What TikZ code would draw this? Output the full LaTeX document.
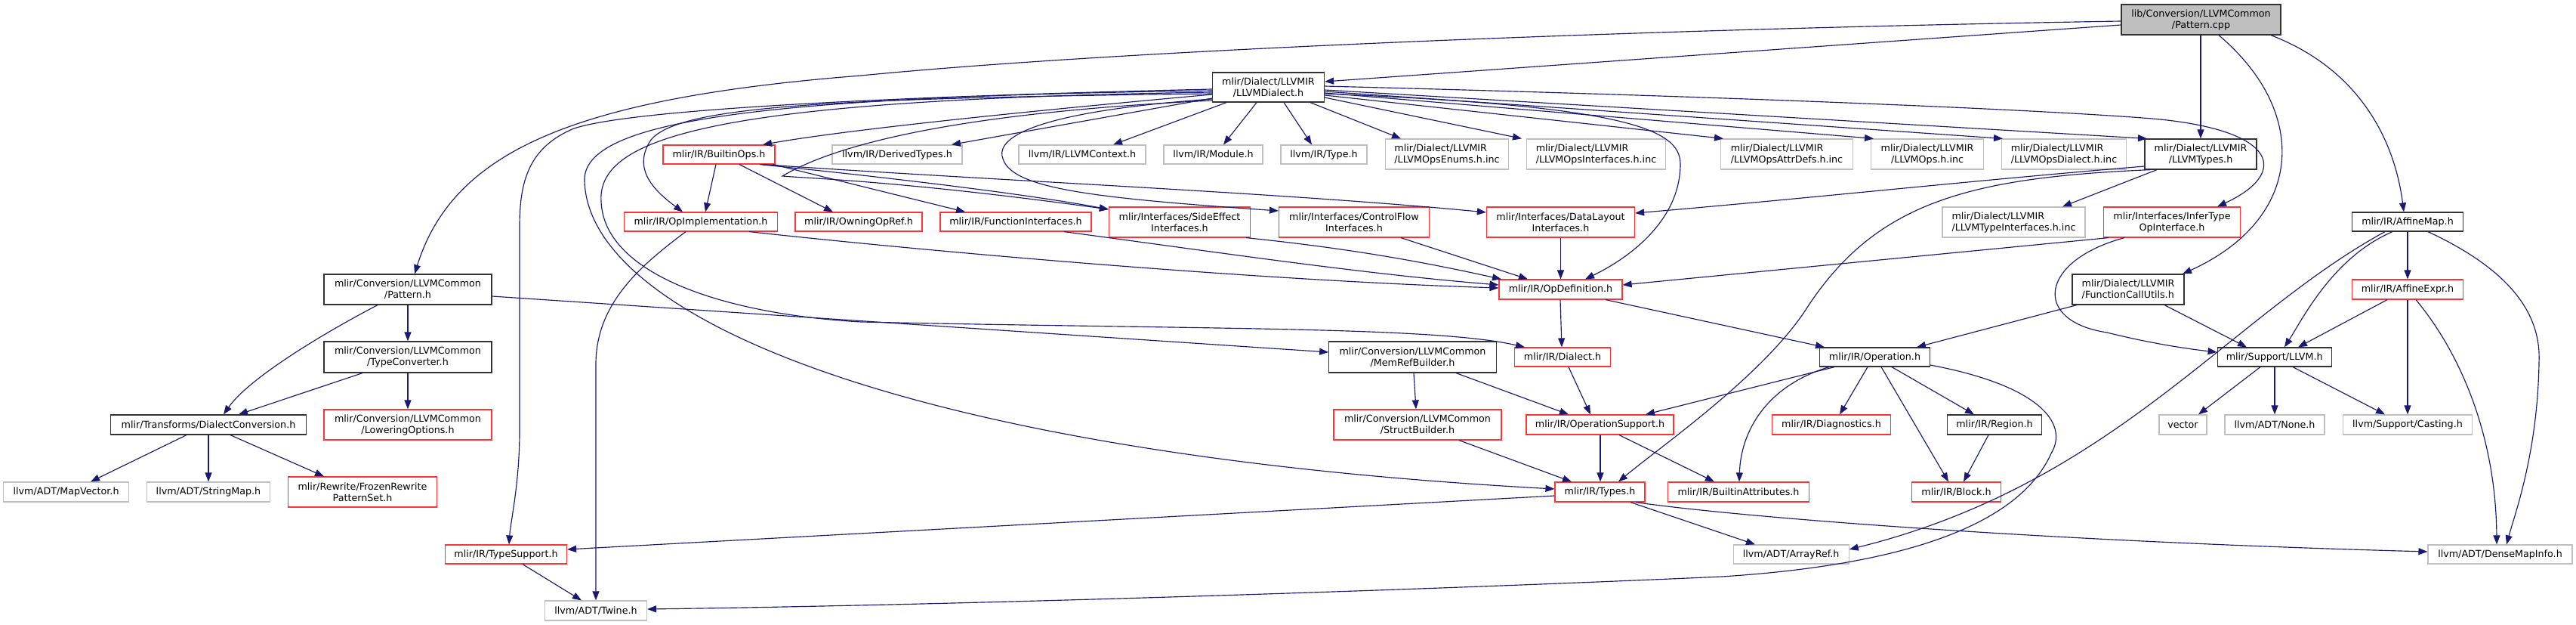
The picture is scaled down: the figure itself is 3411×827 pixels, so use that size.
\documentclass[tikz,border=0pt]{standalone}
\usepackage{fontspec}
\setmainfont{DejaVu Sans}
\usetikzlibrary{arrows.meta}
\definecolor{edgec}{HTML}{191970}
\definecolor{greyb}{HTML}{BFBFBF}
\definecolor{redb}{HTML}{FF3333}
\definecolor{blackb}{HTML}{333333}
\begin{document}
\begin{tikzpicture}[x=1pt,y=-1pt,
  box/.style={rectangle, inner sep=0pt, line width=1.2pt, align=center, font=\fontsize{12.7}{15}\selectfont},
  bk/.style={box, draw=blackb},
  rd/.style={box, draw=redb},
  gy/.style={box, draw=greyb},
  wh/.style 2 args={minimum width=#1pt, minimum height=#2pt},
  dep/.style={draw=edgec, line width=1.15pt, -{Triangle[length=12pt,width=9pt]}}]
\useasboundingbox (0,0) rectangle (3411,827);
\fill[white] (0,0) rectangle (3411,827);
% row 0
\node[bk, fill=greyb, wh={211}{40}] (cpp) at (2914.5,26) {lib/Conversion/LLVMCommon\\/Pattern.cpp};
\node[bk, wh={148}{39}] (dial) at (1679.5,115.5) {mlir/Dialect/LLVMIR\\/LLVMDialect.h};
% row 1
\node[rd, wh={148}{25}] (bops) at (952,204.5) {mlir/IR/BuiltinOps.h};
\node[gy, wh={172}{25}] (dty) at (1188,204.5) {llvm/IR/DerivedTypes.h};
\node[gy, wh={168}{25}] (ctx) at (1433,204.5) {llvm/IR/LLVMContext.h};
\node[gy, wh={131}{25}] (mod) at (1606.5,204.5) {llvm/IR/Module.h};
\node[gy, wh={114}{25}] (typ) at (1753,204.5) {llvm/IR/Type.h};
\node[gy, wh={163}{40}, align=left] (enums) at (1916,204) {mlir/Dialect/LLVMIR\\/LLVMOpsEnums.h.inc};
\node[gy, wh={184}{40}, align=left] (ifaces) at (2113.5,204) {mlir/Dialect/LLVMIR\\/LLVMOpsInterfaces.h.inc};
\node[gy, wh={175}{40}, align=left] (attr) at (2366,204) {mlir/Dialect/LLVMIR\\/LLVMOpsAttrDefs.h.inc};
\node[gy, wh={149}{40}] (ops) at (2552,204) {mlir/Dialect/LLVMIR\\/LLVMOps.h.inc};
\node[gy, wh={165}{40}, align=left] (odial) at (2733,204) {mlir/Dialect/LLVMIR\\/LLVMOpsDialect.h.inc};
\node[bk, wh={148}{40}] (ltypes) at (2914,204) {mlir/Dialect/LLVMIR\\/LLVMTypes.h};
% row 2
\node[rd, wh={203}{25}] (opimpl) at (928,293.5) {mlir/IR/OpImplementation.h};
\node[rd, wh={168}{25}] (owning) at (1137,293.5) {mlir/IR/OwningOpRef.h};
\node[rd, wh={200}{25}] (funcif) at (1345,293.5) {mlir/IR/FunctionInterfaces.h};
\node[rd, wh={187}{40}] (sideeff) at (1562,294) {mlir/Interfaces/SideEffect\\Interfaces.h};
\node[rd, wh={199}{40}] (ctrlflow) at (1793,294) {mlir/Interfaces/ControlFlow\\Interfaces.h};
\node[rd, wh={196}{40}] (datal) at (2066.5,294) {mlir/Interfaces/DataLayout\\Interfaces.h};
\node[gy, wh={189}{40}, align=left] (tyif) at (2666.5,294) {mlir/Dialect/LLVMIR\\/LLVMTypeInterfaces.h.inc};
\node[rd, wh={181}{40}] (infer) at (2876,294) {mlir/Interfaces/InferType\\OpInterface.h};
\node[bk, wh={147}{25}] (affmap) at (3188,293.5) {mlir/IR/AffineMap.h};
% row 3
\node[bk, wh={222}{40}] (path) at (540,383) {mlir/Conversion/LLVMCommon\\/Pattern.h};
\node[rd, wh={163}{26}] (opdef) at (2066.5,383) {mlir/IR/OpDefinition.h};
\node[bk, wh={148}{40}, align=left] (fcu) at (2818,383) {mlir/Dialect/LLVMIR\\/FunctionCallUtils.h};
\node[rd, wh={147}{26}] (affexp) at (3188,383) {mlir/IR/AffineExpr.h};
% row 4
\node[bk, wh={222}{41}] (tconv) at (540,472.5) {mlir/Conversion/LLVMCommon\\/TypeConverter.h};
\node[bk, wh={221.5}{41}] (memref) at (1870.5,472.5) {mlir/Conversion/LLVMCommon\\/MemRefBuilder.h};
\node[rd, wh={126.5}{25}] (dialh) at (2069,472.5) {mlir/IR/Dialect.h};
\node[bk, wh={145.5}{25}] (oper) at (2482.5,472.5) {mlir/IR/Operation.h};
\node[bk, wh={151}{25}] (llvmh) at (3011.7,472.5) {mlir/Support/LLVM.h};
% row 5
\node[bk, wh={259}{26}] (dconv) at (276,562) {mlir/Transforms/DialectConversion.h};
\node[rd, wh={222}{40}] (lower) at (540,562) {mlir/Conversion/LLVMCommon\\/LoweringOptions.h};
\node[rd, wh={222}{40}] (struct) at (1877,562) {mlir/Conversion/LLVMCommon\\/StructBuilder.h};
\node[rd, wh={195}{26}] (opsupp) at (2118.5,562) {mlir/IR/OperationSupport.h};
\node[rd, wh={157.5}{26}] (diag) at (2425,562) {mlir/IR/Diagnostics.h};
\node[bk, wh={125.5}{26}] (region) at (2641,562) {mlir/IR/Region.h};
\node[gy, wh={63}{26}] (vector) at (2890.5,562) {vector};
\node[gy, wh={132}{26}] (none) at (3012,562) {llvm/ADT/None.h};
\node[gy, wh={170.7}{26}] (casting) at (3188,562) {llvm/Support/Casting.h};
% row 6
\node[gy, wh={166}{26}] (mapvec) at (87.6,651) {llvm/ADT/MapVector.h};
\node[gy, wh={163}{26}] (strmap) at (276,651) {llvm/ADT/StringMap.h};
\node[rd, wh={196.5}{40}] (frozen) at (480,651) {mlir/Rewrite/FrozenRewrite\\PatternSet.h};
\node[rd, wh={119}{26}] (types) at (2118.5,651) {mlir/IR/Types.h};
\node[rd, wh={186.6}{26}] (battr) at (2302,651) {mlir/IR/BuiltinAttributes.h};
\node[rd, wh={118}{26}] (block) at (2590.5,651) {mlir/IR/Block.h};
% row 7
\node[rd, wh={161}{25}] (tsup) at (670,733.5) {mlir/IR/TypeSupport.h};
\node[gy, wh={153}{25}] (aref) at (2371.6,733.5) {llvm/ADT/ArrayRef.h};
\node[gy, wh={191}{25}] (dmi) at (3310.5,733.5) {llvm/ADT/DenseMapInfo.h};
% row 8
\node[gy, wh={135}{26}] (twine) at (789,808) {llvm/ADT/Twine.h};

% ---- edges from Pattern.cpp
\draw[dep] (cpp.west |- 0,33) -- (dial.east |- 0,108);
\draw[dep] (cpp.west |- 0,28) .. controls (2200,38) and (1500,65) .. (1140,100) .. controls (760,130) and (600,200) .. (549,0 |- path.north);
\draw[dep] (2914,0 |- cpp.south) -- (2914,0 |- ltypes.north);
\draw[dep] (2938,0 |- cpp.south) .. controls (3060,150) and (3050,290) .. (2890,0 |- fcu.north);
\draw[dep] (3007,0 |- cpp.south) .. controls (3120,90) and (3170,180) .. (3183,0 |- affmap.north);
% ---- edges from LLVMDialect.h
\draw[dep] (dial.west |- 0,125) .. controls (1350,148) and (1120,172) .. (1010,0 |- bops.north);
\draw[dep] (dial.west |- 0,130) -- (1260,0 |- dty.north);
\draw[dep] (1624,0 |- dial.south) -- (1474,0 |- ctx.north);
\draw[dep] (1664,0 |- dial.south) -- (1620,0 |- mod.north);
\draw[dep] (1700,0 |- dial.south) -- (1737,0 |- typ.north);
\draw[dep] (1735,0 |- dial.south) -- (1855,0 |- enums.north);
\draw[dep] (dial.east |- 0,129) -- (2015,0 |- ifaces.north);
\draw[dep] (dial.east |- 0,126) -- (2282,0 |- attr.north);
\draw[dep] (dial.east |- 0,123) -- (2481,0 |- ops.north);
\draw[dep] (dial.east |- 0,121) -- (2652,0 |- odial.north);
\draw[dep] (dial.east |- 0,119) -- (2843,0 |- ltypes.north);
\draw[dep] (dial.east |- 0,114) .. controls (2300,128) and (2700,145) .. (2850,157) .. controls (3020,172) and (3030,230) .. (2936,0 |- infer.north);
\draw[dep] (dial.east |- 0,124) .. controls (2150,140) and (2225,170) .. (2225,217) .. controls (2225,290) and (2160,340) .. (2099,0 |- opdef.north);
\draw[dep] (dial.west |- 0,124) .. controls (1100,130) and (900,140) .. (862,185) .. controls (835,225) and (870,255) .. (904,0 |- opimpl.north);
\draw[dep] (dial.west |- 0,118) .. controls (1300,125) and (850,140) .. (760,170) .. controls (700,195) and (688,240) .. (688,300) -- (688,570) .. controls (688,640) and (676,690) .. (674,0 |- tsup.north);
\draw[dep] (dial.west |- 0,120) .. controls (1000,128) and (770,160) .. (774,240) .. controls (780,420) and (1200,600) .. (types.west |- 0,647);
\draw[dep] (dial.west |- 0,122) .. controls (950,132) and (790,180) .. (796,267) .. controls (800,360) and (950,415) .. (1140,426) .. controls (1600,436) and (1900,432) .. (2019,0 |- dialh.north);
\draw[dep] (dial.west |- 0,131) .. controls (1340,150) and (1320,190) .. (1328,210) .. controls (1340,250) and (1450,262) .. (ctrlflow.west |- 0,279);
\draw[dep] (dial.west |- 0,133) .. controls (1250,150) and (1100,195) .. (1036,233) .. controls (1070,236) and (1200,240) .. (sideeff.west |- 0,277);
% ---- BuiltinOps.h
\draw[dep] (948,0 |- bops.south) -- (934,0 |- opimpl.north);
\draw[dep] (979,0 |- bops.south) -- (1103,0 |- owning.north);
\draw[dep] (1024,0 |- bops.south) -- (1278,0 |- funcif.north);
\draw[dep] (1006,0 |- bops.south) .. controls (1150,232) and (1350,255) .. (sideeff.west |- 0,277);
\draw[dep] (1010,0 |- bops.south) .. controls (1300,238) and (1700,255) .. (datal.west |- 0,281);
% ---- LLVMTypes.h
\draw[dep] (ltypes.west |- 0,220) .. controls (2600,240) and (2400,262) .. (datal.east |- 0,282);
\draw[dep] (2848,0 |- ltypes.south) .. controls (2600,235) and (2480,270) .. (2389,413) .. controls (2330,500) and (2200,590) .. (2143,0 |- types.north);
\draw[dep] (2856,0 |- ltypes.south) -- (2731,0 |- tyif.north);
% ---- InferTypeOpInterface.h
\draw[dep] (2792,0 |- infer.south) -- (opdef.east |- 0,377);
\draw[dep] (2813,0 |- infer.south) .. controls (2700,345) and (2690,425) .. (2790,440) .. controls (2850,455) and (2900,462) .. (llvmh.west |- 0,466);
% ---- FunctionCallUtils.h
\draw[dep] (2866,0 |- fcu.south) -- (2975,0 |- llvmh.north);
\draw[dep] (2750,0 |- fcu.south) -- (2538,0 |- oper.north);
% ---- AffineMap.h / AffineExpr.h
\draw[dep] (affmap.south) -- (affexp.north);
\draw[dep] (3168,0 |- affmap.south) .. controls (3090,340) and (3050,420) .. (3025,0 |- llvmh.north);
\draw[dep] (3158,0 |- affmap.south) .. controls (2950,420) and (2800,640) .. (aref.east |- 0,727);
\draw[dep] (3215,0 |- affmap.south) .. controls (3330,360) and (3365,420) .. (3362,480) .. controls (3360,600) and (3330,680) .. (3319,0 |- dmi.north);
\draw[dep] (3161,0 |- affexp.south) -- (3043,0 |- llvmh.north);
\draw[dep] (affexp.south) -- (casting.north);
\draw[dep] (3199,0 |- affexp.south) .. controls (3260,470) and (3305,580) .. (3306,0 |- dmi.north);
% ---- Support/LLVM.h
\draw[dep] (2993,0 |- llvmh.south) -- (2911,0 |- vector.north);
\draw[dep] (3012,0 |- llvmh.south) -- (3012,0 |- none.north);
\draw[dep] (3036,0 |- llvmh.south) -- (3158,0 |- casting.north);
% ---- Operation.h
\draw[dep] (2429,0 |- oper.south) -- (2179,0 |- opsupp.north);
\draw[dep] (2422,0 |- oper.south) .. controls (2340,510) and (2305,570) .. (2303,0 |- battr.north);
\draw[dep] (2473,0 |- oper.south) -- (2436,0 |- diag.north);
\draw[dep] (2491,0 |- oper.south) -- (2580,0 |- block.north);
\draw[dep] (2505,0 |- oper.south) -- (2614,0 |- region.north);
\draw[dep] (oper.east |- 0,483) .. controls (2700,510) and (2740,560) .. (2716,600) .. controls (2680,680) and (2560,745) .. (2280,763) .. controls (1900,780) and (1300,800) .. (twine.east |- 0,806);
\draw[dep] (2633,0 |- region.south) -- (2600,0 |- block.north);
% ---- OpDefinition.h and below
\draw[dep] (2066,0 |- opdef.south) -- (2068,0 |- dialh.north);
\draw[dep] (2126,0 |- opdef.south) -- (2416,0 |- oper.north);
\draw[dep] (2077,0 |- dialh.south) -- (2106,0 |- opsupp.north);
\draw[dep] (1872,0 |- memref.south) -- (1875,0 |- struct.north);
\draw[dep] (1928,0 |- memref.south) -- (2077,0 |- opsupp.north);
\draw[dep] (1932,0 |- struct.south) -- (2081,0 |- types.north);
\draw[dep] (2119,0 |- opsupp.south) -- (2119,0 |- types.north);
\draw[dep] (2144,0 |- opsupp.south) -- (2270,0 |- battr.north);
% ---- Types.h
\draw[dep] (types.west |- 0,656) -- (tsup.east |- 0,727);
\draw[dep] (2159,0 |- types.south) -- (2324,0 |- aref.north);
\draw[dep] (2166,0 |- types.south) .. controls (2300,684) and (2700,716) .. (dmi.west |- 0,730);
% ---- TypeSupport, OpImplementation, interfaces
\draw[dep] (692,0 |- tsup.south) -- (770,0 |- twine.north);
\draw[dep] (908,0 |- opimpl.south) .. controls (850,350) and (790,400) .. (789,480) -- (789,0 |- twine.north);
\draw[dep] (992,0 |- opimpl.south) .. controls (1300,340) and (1700,372) .. (opdef.west |- 0,381);
\draw[dep] (1409,0 |- funcif.south) .. controls (1600,332) and (1800,362) .. (opdef.west |- 0,377);
\draw[dep] (1650,0 |- sideeff.south) .. controls (1800,330) and (1900,350) .. (1988,0 |- opdef.north);
\draw[dep] (1855,0 |- ctrlflow.south) -- (2023,0 |- opdef.north);
\draw[dep] (datal.south) -- (datal.south |- opdef.north);
% ---- Pattern.h side
\draw[dep] (path.south) -- (tconv.north);
\draw[dep] (500,0 |- path.south) .. controls (430,440) and (330,500) .. (296,0 |- dconv.north);
\draw[dep] (path.east |- 0,392) -- (memref.west |- 0,466);
\draw[dep] (480,0 |- tconv.south) -- (316,0 |- dconv.north);
\draw[dep] (tconv.south) -- (lower.north);
\draw[dep] (247,0 |- dconv.south) -- (120,0 |- mapvec.north);
\draw[dep] (dconv.south) -- (strmap.north);
\draw[dep] (305,0 |- dconv.south) -- (429,0 |- frozen.north);
\end{tikzpicture}
\end{document}
